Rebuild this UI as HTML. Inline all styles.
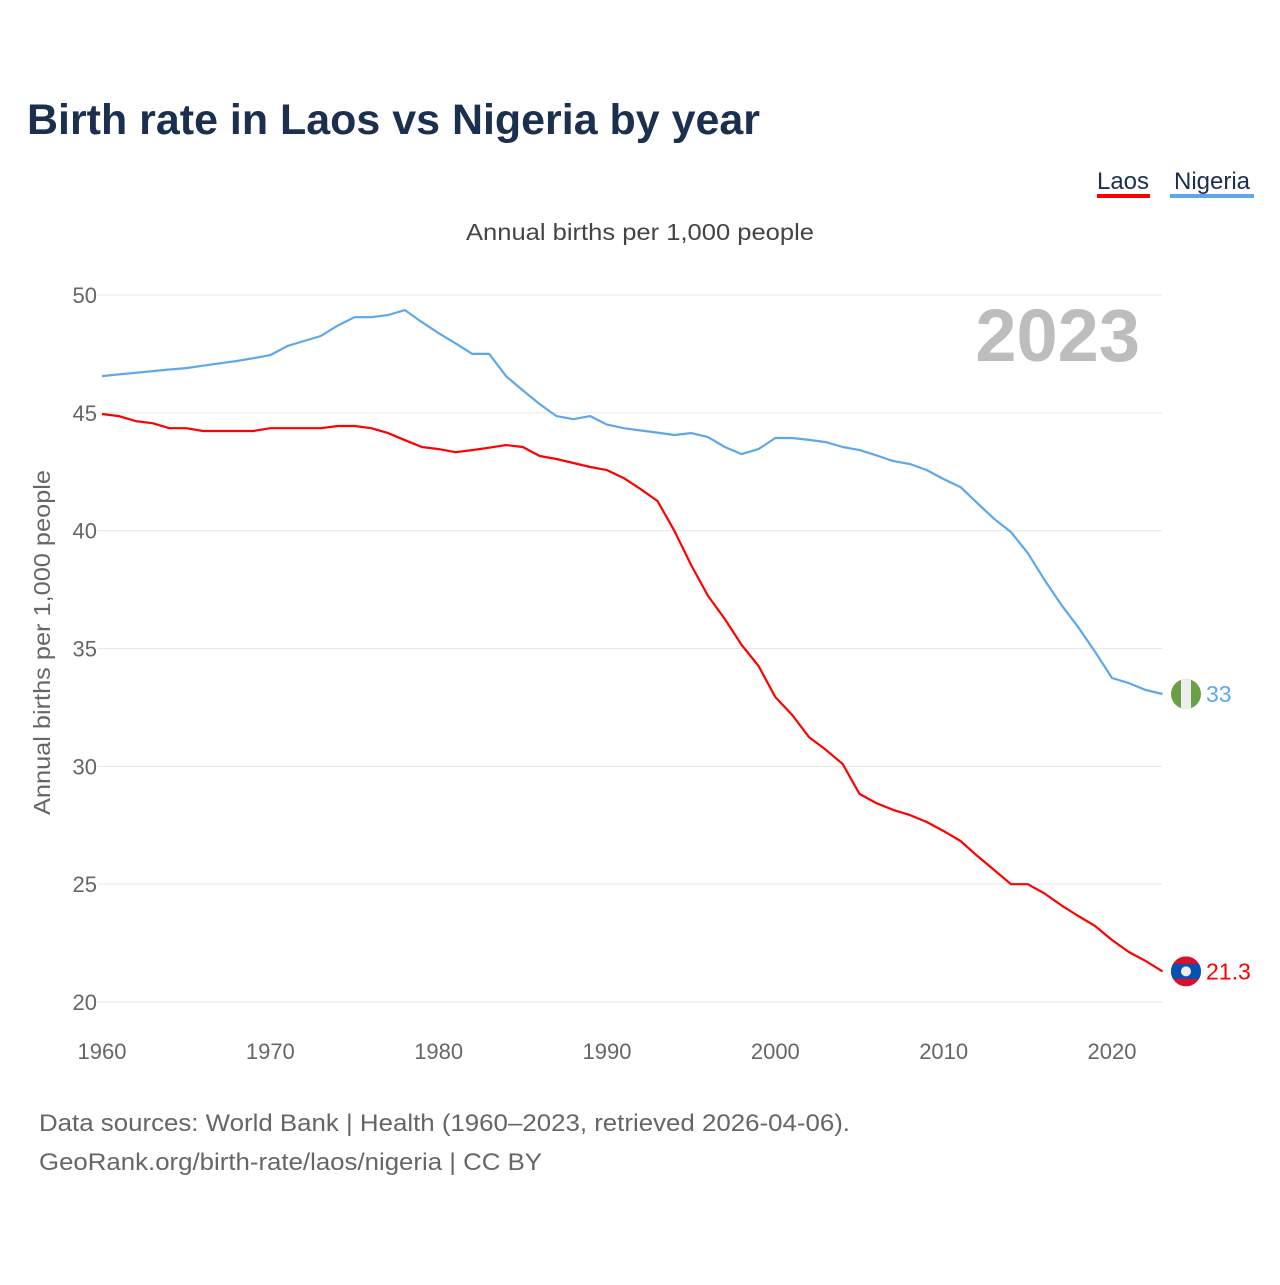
<!DOCTYPE html>
<html><head><meta charset="utf-8"><style>
body{margin:0;background:#fff;font-family:"Liberation Sans",sans-serif;}
svg text{font-family:"Liberation Sans",sans-serif;}
</style></head><body>
<svg id="chart" width="1280" height="1280" viewBox="0 0 1280 1280" xmlns="http://www.w3.org/2000/svg">
<rect width="1280" height="1280" fill="#fff"/>
<text x="27" y="134" font-size="43" font-weight="bold" fill="#1b2f4e" textLength="733" lengthAdjust="spacingAndGlyphs">Birth rate in Laos vs Nigeria by year</text>
<g>
<text x="1123" y="189" font-size="24" fill="#1b2f4e" text-anchor="middle">Laos</text>
<rect x="1097" y="194" width="53" height="4" fill="#ff0000"/></g>
<g>
<text x="1212" y="189" font-size="24" fill="#1b2f4e" text-anchor="middle">Nigeria</text>
<rect x="1170" y="194" width="84" height="4" fill="#5ea8ea"/></g>
<text x="466" y="240" font-size="23" fill="#444" textLength="348" lengthAdjust="spacingAndGlyphs">Annual births per 1,000 people</text>
<text x="1140" y="361" font-size="74" font-weight="bold" fill="#bdbdbd" text-anchor="end">2023</text>
<text transform="translate(50,815) rotate(-90)" font-size="23" fill="#666" textLength="345" lengthAdjust="spacingAndGlyphs">Annual births per 1,000 people</text>
<g id="grid"></g><g id="xt"></g><g id="lines"></g>
<text x="39" y="1131" font-size="24" fill="#666" textLength="811" lengthAdjust="spacingAndGlyphs">Data sources: World Bank | Health (1960–2023, retrieved 2026-04-06).</text>
<text x="39" y="1170" font-size="24" fill="#666" textLength="503" lengthAdjust="spacingAndGlyphs">GeoRank.org/birth-rate/laos/nigeria | CC BY</text>
</svg>
<script>
const years=[];for(let y=1960;y<=2023;y++)years.push(y);
const laos=[44.95,44.86,44.65,44.56,44.35,44.35,44.23,44.23,44.23,44.23,44.35,44.35,44.35,44.35,44.44,44.44,44.35,44.14,43.84,43.55,43.46,43.33,43.42,43.52,43.63,43.55,43.17,43.04,42.87,42.7,42.57,42.23,41.76,41.26,40.0,38.54,37.23,36.25,35.15,34.26,32.94,32.18,31.24,30.7,30.1,28.83,28.44,28.15,27.93,27.64,27.25,26.83,26.2,25.6,25.0,25.0,24.6,24.1,23.65,23.22,22.63,22.12,21.74,21.3];
const nigeria=[46.56,46.63,46.7,46.77,46.84,46.9,47.0,47.1,47.2,47.32,47.45,47.83,48.05,48.26,48.7,49.06,49.06,49.15,49.36,48.85,48.38,47.95,47.5,47.5,46.56,45.95,45.37,44.86,44.73,44.86,44.5,44.35,44.25,44.16,44.06,44.14,43.97,43.55,43.25,43.46,43.93,43.93,43.85,43.76,43.55,43.42,43.2,42.95,42.83,42.57,42.19,41.85,41.17,40.5,39.94,39.05,37.9,36.84,35.9,34.85,33.75,33.53,33.24,33.07];
const yTicks=[20,25,30,35,40,45,50];
const xTicks=[1960,1970,1980,1990,2000,2010,2020];
const X=y=>102+(y-1960)*(1162.5-102)/63;
const Y=v=>1002-(v-20)*(1002-295)/30;
const NS="http://www.w3.org/2000/svg";
function mk(t,a,p){const e=document.createElementNS(NS,t);for(const k in a)e.setAttribute(k,a[k]);p.appendChild(e);return e;}
const g=document.getElementById('grid');
yTicks.forEach(v=>{
 const l=mk('line',{x1:98,x2:1162,y1:Y(v),y2:Y(v),stroke:'#e6e6e6','stroke-width':1},g);
 
 
 const t=mk('text',{x:97,y:Y(v)+8,'font-size':22,fill:'#666','text-anchor':'end'},g);t.textContent=v;
 
 
});
const xt=document.getElementById('xt');
xTicks.forEach(v=>{
 const t=mk('text',{x:X(v),y:1059,'font-size':22,fill:'#666','text-anchor':'middle'},xt);t.textContent=v;
 
 
});
const L=document.getElementById('lines');
function series(d,c,name){
 const p=mk('path',{d:d.map((v,i)=>(i?'L':'M')+X(years[i]).toFixed(1)+','+Y(v).toFixed(1)).join(''),fill:'none',stroke:c,'stroke-width':2.2,'stroke-linejoin':'round'},L);
 
 
}
series(nigeria,'#5ea8ea','nigeria');series(laos,'#ff0000','laos');
const ny=Y(nigeria[nigeria.length-1]), ly=Y(laos[laos.length-1]), fx=1186;
const fn=mk('g',{},L);


const cpn=mk('clipPath',{id:'cn'},fn);mk('circle',{cx:fx,cy:ny,r:15},cpn);
mk('rect',{x:fx-15,y:ny-15,width:30,height:30,fill:'#6a9f45','clip-path':'url(#cn)'},fn);
mk('rect',{x:fx-5,y:ny-15,width:10,height:30,fill:'#eee','clip-path':'url(#cn)'},fn);
const nt=mk('text',{x:fx+20,y:ny+8,'font-size':23,fill:'#5ea8ea'},L);nt.textContent='33';


const fl=mk('g',{},L);


const cp=mk('clipPath',{id:'cl'},fl);mk('circle',{cx:fx,cy:ly,r:15},cp);
mk('rect',{x:fx-15,y:ly-15,width:30,height:30,fill:'#d8102c','clip-path':'url(#cl)'},fl);
mk('rect',{x:fx-15,y:ly-7.5,width:30,height:15,fill:'#0b4fb0','clip-path':'url(#cl)'},fl);
mk('circle',{cx:fx,cy:ly,r:5,fill:'#eee'},fl);
const lt=mk('text',{x:fx+20,y:ly+8,'font-size':23,fill:'#ff0000'},L);lt.textContent='21.3';


</script>
</body></html>
